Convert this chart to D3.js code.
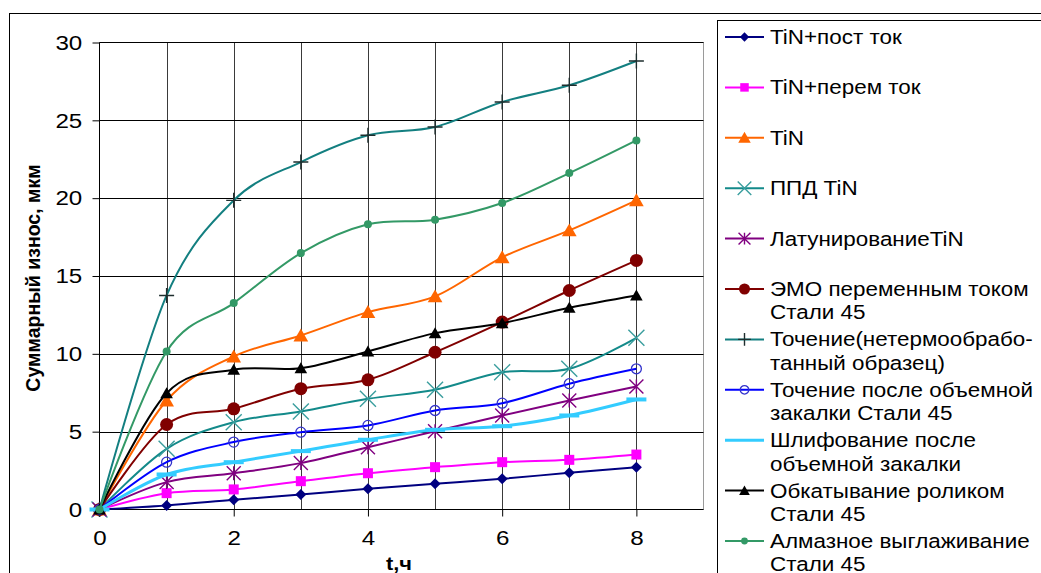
<!DOCTYPE html>
<html>
<head>
<meta charset="utf-8">
<script src="https://cdn.jsdelivr.net/npm/d3@7"></script>
<style>
  html, body { margin: 0; padding: 0; background: #fff; }
  svg { display: block; font-family: "Liberation Sans", Arial, sans-serif; }
</style>
</head>
<body>
<div id="chart"></div>
<script>
// Wear vs time data
const tValues = [0, 1, 2, 3, 4, 5, 6, 7, 8];
const xTicks = [0, 2, 4, 6, 8];
const yTicks = [0, 5, 10, 15, 20, 25, 30];

const tinDc = [0, 0.26, 0.62, 0.96, 1.33, 1.65, 1.97, 2.36, 2.72];
const tinAc = [0, 1.05, 1.29, 1.82, 2.33, 2.72, 3.04, 3.19, 3.53];
const tin = [0, 7.0, 9.83, 11.18, 12.68, 13.69, 16.2, 17.93, 19.86];
const ppdTin = [0, 3.9, 5.61, 6.3, 7.11, 7.69, 8.82, 9.04, 11.03];
const brassTin = [0, 1.76, 2.33, 2.98, 4.0, 5.03, 6.04, 7.0, 7.9];
const emoAc = [0, 5.46, 6.47, 7.76, 8.33, 10.1, 12.04, 14.07, 16.0];
const turningRaw = [0, 13.75, 19.86, 22.32, 24.04, 24.57, 26.18, 27.25, 28.81];
const turningHard = [0, 3.04, 4.33, 4.97, 5.4, 6.36, 6.83, 8.08, 9.04];
const grindingHard = [0, 2.25, 3.04, 3.75, 4.48, 5.12, 5.35, 6.04, 7.07];
const rolling = [0, 7.47, 8.98, 9.08, 10.15, 11.33, 11.97, 12.96, 13.75];
const diamond = [0, 10.15, 13.26, 16.47, 18.32, 18.62, 19.69, 21.61, 23.71];

const legendLabels = [
    ['TiN+пост ток'],
    ['TiN+перем ток'],
    ['TiN'],
    ['ППД TiN'],
    ['ЛатунированиеTiN'],
    ['ЭМО переменным током', 'Стали 45'],
    ['Точение(нетермообрабо-', 'танный образец)'],
    ['Точение после объемной', 'закалки Стали 45'],
    ['Шлифование после', 'объемной закалки'],
    ['Обкатывание роликом', 'Стали 45'],
    ['Алмазное выглаживание', 'Стали 45']
];

const seriesValues = [tinDc, tinAc, tin, ppdTin, brassTin, emoAc, turningRaw, turningHard, grindingHard, rolling, diamond];

// Styles per series (same order)
const seriesStyles = [
    { color: '#000080', marker: 'diamond', size: 5.5, width: 2 },
    { color: '#ff00ff', marker: 'square', size: 5, width: 2 },
    { color: '#ff6600', marker: 'triangle', size: 7, width: 2 },
    { color: '#138a8a', marker: 'x', size: 8, width: 2, markerColor: '#3a9e9e' },
    { color: '#800080', marker: 'star', size: 7, width: 2 },
    { color: '#800000', marker: 'circle', size: 6.5, width: 2 },
    { color: '#137f80', marker: 'plus', size: 7.5, width: 2, markerColor: '#1e2e2e' },
    { color: '#0000ff', marker: 'ocircle', size: 5, width: 2, markerColor: '#3333cc' },
    { color: '#33ccff', marker: 'dash', size: 10, width: 3 },
    { color: '#000000', marker: 'triangle', size: 6, width: 2 },
    { color: '#339966', marker: 'circle', size: 4, width: 2 }
];

const W = 1041, H = 573;
const TEXT_STRETCH = 1.15; // the reference text is a bit wider than Liberation Sans

const svg = d3.select('#chart').append('svg')
    .attr('width', W)
    .attr('height', H);

svg.append('rect').attr('width', W).attr('height', H).attr('fill', '#fff');

// Chart outer border
svg.append('rect')
    .attr('x', 9.5).attr('y', 13.5)
    .attr('width', 1200).attr('height', 700)
    .attr('fill', 'none').attr('stroke', '#000').attr('stroke-width', 1);

const xScale = d3.scaleLinear().domain([0, 9]).range([99.5, 703.5]);
const yScale = d3.scaleLinear().domain([0, 30]).range([509.5, 42.5]);

const plot = svg.append('g');

// Plot area border (light gray)
plot.append('rect')
    .attr('x', xScale(0)).attr('y', yScale(30))
    .attr('width', xScale(9) - xScale(0))
    .attr('height', yScale(0) - yScale(30))
    .attr('fill', 'none').attr('stroke', '#9a9a9a').attr('stroke-width', 1);

// Vertical grid lines at each hour
plot.append('g')
    .selectAll('line')
    .data(d3.range(1, 9))
    .join('line')
    .attr('x1', d => Math.round(xScale(d)) + 0.5)
    .attr('x2', d => Math.round(xScale(d)) + 0.5)
    .attr('y1', yScale(30))
    .attr('y2', yScale(0))
    .attr('stroke', '#3a3a3a')
    .attr('stroke-width', 1);

// Horizontal grid lines
plot.append('g')
    .selectAll('line')
    .data(yTicks.filter(d => d > 0 && d < 30))
    .join('line')
    .attr('x1', xScale(0))
    .attr('x2', xScale(9))
    .attr('y1', d => Math.round(yScale(d)) + 0.5)
    .attr('y2', d => Math.round(yScale(d)) + 0.5)
    .attr('stroke', '#000')
    .attr('stroke-width', 1);
plot.append('line')
    .attr('x1', xScale(0)).attr('x2', xScale(9))
    .attr('y1', yScale(30)).attr('y2', yScale(30))
    .attr('stroke', '#000');

// Axes
const xAxis = d3.axisBottom(xScale)
    .tickValues(xTicks)
    .tickSize(7)
    .tickPadding(14)
    .tickFormat(d3.format('d'));

const yAxis = d3.axisLeft(yScale)
    .tickValues(yTicks)
    .tickSize(7)
    .tickPadding(8)
    .tickFormat(d3.format('d'));

const gx = plot.append('g')
    .attr('transform', `translate(0,${yScale(0)})`)
    .call(xAxis);
gx.select('.domain').attr('d', `M${xScale(0)},0H${xScale(9)}`);

const gy = plot.append('g')
    .attr('transform', `translate(${xScale(0)},0)`)
    .call(yAxis);
gy.select('.domain').attr('d', `M0,${yScale(0)}V${yScale(30)}`);

[gx, gy].forEach(g => {
    g.selectAll('.domain').attr('stroke', '#000');
    g.selectAll('.tick line').attr('stroke', '#000');
    g.selectAll('.tick text')
        .attr('fill', '#000')
        .attr('font-size', '21px')
        .attr('font-family', '"Liberation Sans", Arial, sans-serif')
        .attr('transform', `scale(${TEXT_STRETCH},1)`);
});

// Axis titles
svg.append('text')
    .attr('transform', `translate(399,570) scale(${TEXT_STRETCH},1)`)
    .attr('text-anchor', 'middle')
    .attr('font-size', '19px')
    .attr('font-weight', 'bold')
    .text('t,ч');

svg.append('text')
    .attr('transform', 'translate(40,278) rotate(-90)')
    .attr('text-anchor', 'middle')
    .attr('font-size', '19.5px')
    .attr('font-weight', 'bold')
    .text('Суммарный износ, мкм');

// Marker path builders
function markerPath(type, r) {
    switch (type) {
        case 'diamond':
            return `M0,${-r}L${r},0L0,${r}L${-r},0Z`;
        case 'square':
            return `M${-r},${-r}H${r}V${r}H${-r}Z`;
        case 'triangle':
            return `M0,${-r}L${r * 1.05},${r * 0.85}L${-r * 1.05},${r * 0.85}Z`;
        case 'x':
            return `M${-r},${-r}L${r},${r}M${r},${-r}L${-r},${r}`;
        case 'star':
            return `M${-r},${-r}L${r},${r}M${r},${-r}L${-r},${r}M0,${-r}V${r}`;
        case 'plus':
            return `M${-r},0H${r}M0,${-r}V${r}`;
        case 'circle':
        case 'ocircle':
            return `M${r},0A${r},${r} 0 1,1 ${-r},0A${r},${r} 0 1,1 ${r},0Z`;
        case 'dash':
            return `M${-r},-2H${r}V2H${-r}Z`;
    }
}

function styleMarker(sel, st) {
    const mc = st.markerColor || st.color;
    if (['x', 'star', 'plus'].includes(st.marker)) {
        sel.attr('fill', 'none').attr('stroke', mc).attr('stroke-width', 1.4);
    } else if (st.marker === 'ocircle') {
        sel.attr('fill', 'none').attr('stroke', mc).attr('stroke-width', 1.3);
    } else {
        sel.attr('fill', mc).attr('stroke', 'none');
    }
}

// Smoothed lines, like Excel's smoothed line chart
const line = d3.line()
    .x((d, i) => xScale(tValues[i]))
    .y(d => yScale(d))
    .curve(d3.curveCatmullRom.alpha(0));

const seriesG = plot.append('g');
seriesValues.forEach((values, si) => {
    const st = seriesStyles[si];
    const g = seriesG.append('g');
    g.append('path')
        .datum(values)
        .attr('d', line)
        .attr('fill', 'none')
        .attr('stroke', st.color)
        .attr('stroke-width', st.width)
        .attr('stroke-linejoin', 'round');
    g.selectAll('path.marker')
        .data(values)
        .join('path')
        .attr('class', 'marker')
        .attr('transform', (d, i) => `translate(${xScale(tValues[i])},${yScale(d)})`)
        .attr('d', markerPath(st.marker, st.size))
        .call(styleMarker, st);
});

// Legend
const legend = svg.append('g');
legend.append('rect')
    .attr('x', 717.5).attr('y', 20.5)
    .attr('width', 500).attr('height', 700)
    .attr('fill', '#fff').attr('stroke', '#000').attr('stroke-width', 1);

const rowY = i => 37 + i * 50.4;
legendLabels.forEach((lines, i) => {
    const st = seriesStyles[i];
    const y = rowY(i);
    const row = legend.append('g').attr('transform', `translate(0,${y})`);
    row.append('line')
        .attr('x1', 725).attr('x2', 764)
        .attr('y1', 0).attr('y2', 0)
        .attr('stroke', st.color)
        .attr('stroke-width', st.width);
    if (st.marker !== 'dash') {
        row.append('path')
            .attr('transform', 'translate(744.5,0)')
            .attr('d', markerPath(st.marker, st.size * 0.85))
            .call(styleMarker, st);
    }
    row.append('text')
        .attr('transform', `translate(770,7) scale(${TEXT_STRETCH},1)`)
        .attr('font-size', '19.5px')
        .attr('fill', '#000')
        .selectAll('tspan')
        .data(lines)
        .join('tspan')
        .attr('x', 0)
        .attr('dy', (d, k) => k === 0 ? 0 : 23.5)
        .text(d => d);
});
</script>
</body>
</html>
